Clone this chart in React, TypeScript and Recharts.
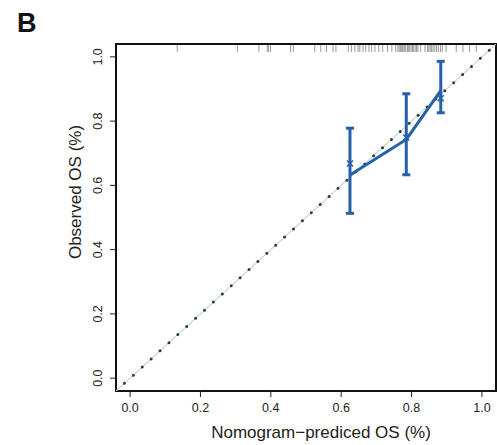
import { ComposedChart, Line, Scatter, XAxis, YAxis, ErrorBar, ReferenceArea } from "recharts"

const axisTicks = [0, 0.2, 0.4, 0.6, 0.8, 1.0]

// calibration groups
const predicted = [0.625, 0.785, 0.883]
const observed = [0.632, 0.743, 0.895]
const corrected = [0.668, 0.749, 0.871]
const lowerCI = [0.513, 0.633, 0.826]
const upperCI = [0.778, 0.885, 0.986]

// rug of predicted values along the top
const rugValues = [
  0.134, 0.305, 0.366, 0.39, 0.393, 0.399, 0.456, 0.464, 0.525, 0.542, 0.558, 0.577, 0.585,
  0.62, 0.629, 0.639, 0.648, 0.653, 0.662, 0.67, 0.679, 0.687, 0.696, 0.707, 0.718, 0.732,
  0.744, 0.755, 0.761, 0.765, 0.769, 0.772, 0.775, 0.778, 0.781, 0.784, 0.788, 0.791, 0.795,
  0.799, 0.803, 0.806, 0.81, 0.814, 0.818, 0.826, 0.838, 0.845, 0.849, 0.853, 0.857, 0.861,
  0.866, 0.871, 0.876, 0.882, 0.887, 0.898, 0.927, 0.946, 0.965, 0.984,
]

const xMin = -0.04
const xMax = 1.04

const BLUE = "#2461a8"
const FONT = "'Liberation Sans', Arial, sans-serif"

const calibLine = predicted.map((x, i) => ({ x, y: observed[i] }))
const calibBars = predicted.map((x, i) => ({ x, y: observed[i], err: [observed[i] - lowerCI[i], upperCI[i] - observed[i]] }))
const calibMarks = predicted.map((x, i) => ({ x, y: corrected[i] }))
const rugData = rugValues.map((x) => ({ x, y: xMax }))
const idealFull = [{ x: xMin, y: xMin }, { x: xMax, y: xMax }]
const idealDots = [{ x: -0.016, y: -0.016 }, { x: 1.028, y: 1.028 }]

const XTick = ({ x, y, payload }: any) => (
  <text x={x} y={y + 13} textAnchor="middle" fontSize={12.5} fill="#222" fontFamily={FONT}>
    {payload.value.toFixed(1)}
  </text>
)

const YTick = ({ x, y, payload }: any) => (
  <text
    x={x - 6}
    y={y}
    textAnchor="middle"
    fontSize={12.5}
    fill="#222"
    fontFamily={FONT}
    transform={`rotate(-90, ${x - 6}, ${y})`}
  >
    {payload.value.toFixed(1)}
  </text>
)

const XMark = ({ cx, cy }: any) => (
  <path d={`M${cx - 3},${cy - 3}L${cx + 3},${cy + 3}M${cx - 3},${cy + 3}L${cx + 3},${cy - 3}`} stroke={BLUE} strokeWidth={1.6} />
)

const RugTick = ({ cx, cy }: any) => (
  <line x1={cx} x2={cx} y1={cy + 1} y2={cy + 8} stroke="#999" strokeWidth={1} />
)

export default function App() {
  return (
    <div style={{ position: "absolute", left: 0, top: 0, width: 497, height: 445, background: "#fff", fontFamily: FONT }}>
      <ComposedChart width={497} height={445} margin={{ top: 44, right: 1, left: 0, bottom: 0 }}>
        <XAxis
          type="number"
          dataKey="x"
          domain={[xMin, xMax]}
          ticks={axisTicks}
          allowDataOverflow
          axisLine={false}
          tickSize={6}
          tickLine={{ stroke: "#222" }}
          tick={<XTick />}
          height={54}
        />
        <YAxis
          type="number"
          dataKey="y"
          domain={[xMin, xMax]}
          ticks={axisTicks}
          allowDataOverflow
          axisLine={false}
          tickSize={6}
          tickLine={{ stroke: "#222" }}
          tick={<YTick />}
          width={116}
        />
        <Line data={idealFull} dataKey="y" stroke="#cfcfcf" strokeWidth={1.2} dot={false} isAnimationActive={false} />
        <Line
          data={idealDots}
          dataKey="y"
          stroke="#1e4040"
          strokeWidth={3}
          strokeDasharray="0 12.05"
          strokeLinecap="round"
          dot={false}
          isAnimationActive={false}
        />
        <Scatter data={rugData} shape={<RugTick />} isAnimationActive={false} />
        <Line data={calibLine} dataKey="y" stroke={BLUE} strokeWidth={3} dot={false} isAnimationActive={false} />
        <Scatter data={calibBars} shape={() => <g />} isAnimationActive={false}>
          <ErrorBar dataKey="err" direction="y" width={4} stroke={BLUE} strokeWidth={3} isAnimationActive={false} />
        </Scatter>
        <Scatter data={calibMarks} shape={<XMark />} isAnimationActive={false} />
        <ReferenceArea x1={xMin} x2={xMax} y1={xMin} y2={xMax} fill="none" stroke="#111" strokeWidth={2} fillOpacity={0} />
      </ComposedChart>
      <svg width={497} height={445} style={{ position: "absolute", left: 0, top: 0, pointerEvents: "none" }}>
        <text x={17} y={32} fontSize={27} fontWeight="bold" fill="#111" fontFamily={FONT}>B</text>
        <text x={321} y={438} fontSize={17} textAnchor="middle" fill="#222" fontFamily={FONT}>
          Nomogram−prediced OS (%)
        </text>
        <text x={81} y={192} fontSize={17} textAnchor="middle" fill="#222" fontFamily={FONT} transform="rotate(-90, 81, 192)">
          Observed OS (%)
        </text>
      </svg>
    </div>
  )
}
